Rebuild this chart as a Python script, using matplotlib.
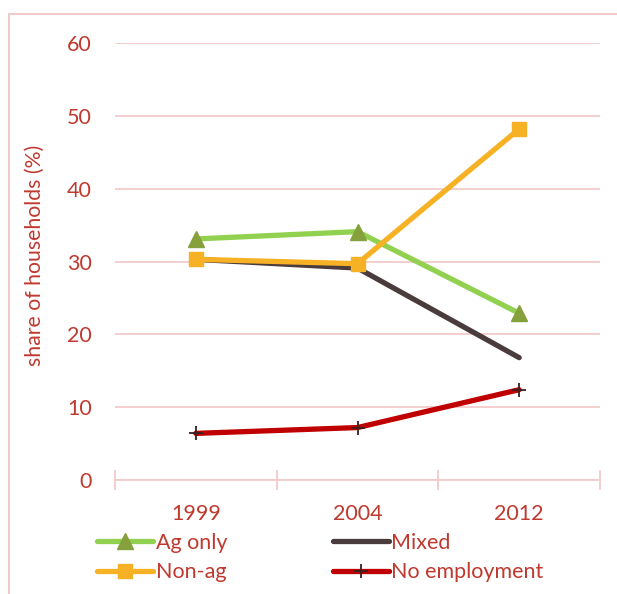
import matplotlib
matplotlib.use("Agg")
import matplotlib.pyplot as plt
from matplotlib.patches import Rectangle

plt.rcParams['font.family'] = ['Lato', 'DejaVu Sans']

years = ["1999", "2004", "2012"]
ag_only = [33.1, 34.1, 22.9]
mixed = [30.3, 29.1, 16.8]
non_ag = [30.3, 29.7, 48.2]
no_employment = [6.4, 7.2, 12.4]
yticks = [0, 10, 20, 30, 40, 50, 60]

text_c = "#C0392F"
grid_c = "#F2CACA"

fig = plt.figure(figsize=(6.17, 5.94), dpi=100)
ax = fig.add_axes([115/617, 1-480/594, 485/617, 437/594])

x = list(range(len(years)))
l1, = ax.plot(x, ag_only, color="#92D050", lw=3.8, marker="^", ms=11,
              mfc="#86A03C", mec="#86A03C", label="Ag only", solid_capstyle="round", zorder=3)
l2, = ax.plot(x, mixed, color="#4A3C3C", lw=3.8, label="Mixed", solid_capstyle="round", zorder=2)
l3, = ax.plot(x, non_ag, color="#F7B124", lw=3.8, marker="s", ms=10,
              mfc="#F7B124", mec="#F7B124", label="Non-ag", solid_capstyle="round", zorder=4)
l4, = ax.plot(x, no_employment, color="#C00000", lw=3.8, marker="+", ms=10, mew=1.3,
              mec="#3A2020", label="No employment", solid_capstyle="round", zorder=3)

ax.set_xlim(-0.5, len(years) - 0.5)
ax.set_ylim(0, 60)
ax.set_yticks(yticks)
ax.set_yticklabels([str(v) for v in yticks])
ax.grid(axis="y", color=grid_c, lw=1.3, zorder=0)
ax.set_axisbelow(True)
for s in ["left", "right", "top"]:
    ax.spines[s].set_visible(False)
ax.spines["bottom"].set_color(grid_c)
ax.spines["bottom"].set_linewidth(1.3)

ax.set_xticks([-0.5 + i for i in range(len(years) + 1)], minor=False)
ax.set_xticklabels([])
ax.tick_params(axis="x", which="major", direction="inout", length=14, color=grid_c, width=1.3)
ax.set_xticks(x, minor=True)
ax.set_xticklabels(years, minor=True)
ax.tick_params(axis="x", which="minor", length=0, pad=17, labelsize=15.5, labelcolor=text_c)
ax.tick_params(axis="y", length=0, pad=16.5, labelsize=15.5, labelcolor=text_c)

fig.text(35/617, 1-255/594, "share of households (%)", rotation=90, ha="center", va="center",
         color=text_c, fontsize=15.3)

leg = fig.legend(handles=[l1, l3, l2, l4], labels=["Ag only", "Non-ag", "Mixed", "No employment"],
                 ncol=2, loc="upper left", bbox_to_anchor=(97/617, 1-533/594), frameon=False,
                 fontsize=15.5, handlelength=2.6, handletextpad=0.12, columnspacing=4.9,
                 labelspacing=0.42, borderpad=0, borderaxespad=0)
for t in leg.get_texts():
    t.set_color(text_c)

fig.patches.append(Rectangle((9/617, -0.1), 1.2, 1-14/594 + 0.1, transform=fig.transFigure,
                             fill=False, edgecolor=grid_c, lw=1.5))

fig.savefig("out.png", dpi=100)
